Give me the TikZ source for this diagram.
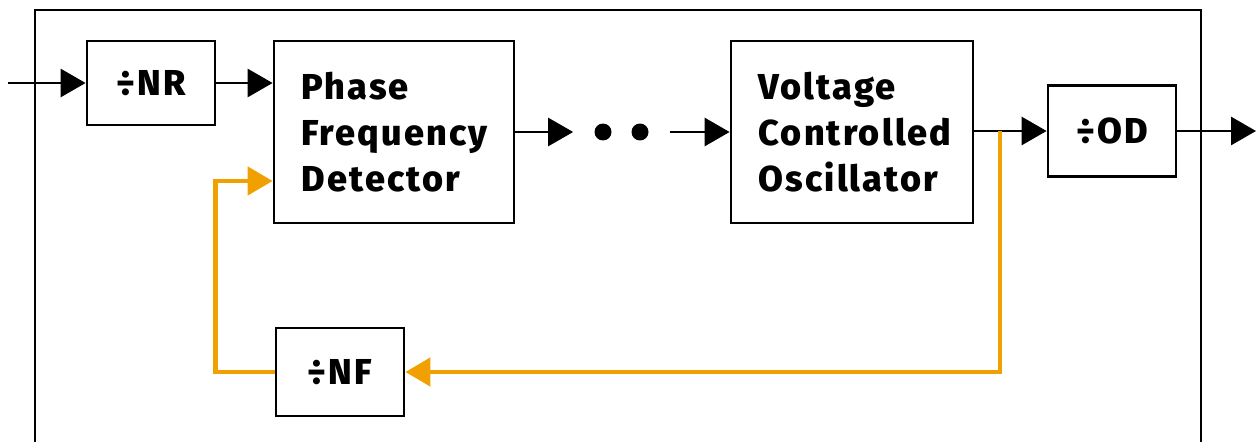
\documentclass[tikz,border=0pt]{standalone}
\usepackage{fontspec}
\setmainfont{Fira Sans}[LetterSpace=6, BoldFont={Fira Sans ExtraBold}]
\usetikzlibrary{arrows.meta,calc}
\definecolor{fborange}{RGB}{240,160,0}
\begin{document}
\begin{tikzpicture}[x=0.02cm, y=-0.02cm,
  blk/.style={draw, line width=1.6pt, inner sep=0pt, font=\fontsize{20.5}{26.2}\selectfont\bfseries},
  txtblk/.style={blk, align=left, inner xsep=0.55cm},
  dot/.style={circle, fill, inner sep=0pt, minimum size=0.34cm},
  sig/.style={line width=1.6pt, -{Triangle[length=0.5cm, width=0.56cm]}},
  fb/.style={line width=2.6pt, fborange, -{Triangle[length=0.5cm, width=0.56cm]}}]
\useasboundingbox (0,0) rectangle (1260,442);
% outer frame, open below
\draw[line width=1.6pt] (35,470) -- (35,10) -- (1201,10) -- (1201,470);
% blocks
\node[blk, minimum width=2.56cm, minimum height=1.68cm] (nr) at (151,83) {÷NR};
\node[txtblk, text width=3.7cm, minimum height=3.64cm] (pfd) at (394,132) {Phase\\Frequency\\Detector};
\node[dot] (d1) at (603,132) {};
\node[dot] (d2) at (640,132) {};
\node[txtblk, text width=3.74cm, minimum height=3.64cm] (vco) at (852,132) {Voltage\\Controlled\\Oscillator};
\node[blk, minimum width=2.56cm, minimum height=1.82cm] (od) at (1112,131) {÷OD};
\node[blk, minimum width=2.56cm, minimum height=1.76cm] (nf) at (340,372) {÷NF};
\coordinate (in) at (8,83);
\coordinate (out) at (1256,131);
\coordinate (tap) at (1000,131);
% forward path
\draw[sig] (in) -- (nr.west);
\draw[sig] (nr.east) -- (nr.east -| pfd.west);
\draw[sig, shorten >=0.42cm] (pfd.east) -- (d1.west);
\draw[sig, shorten <=0.42cm] (d2.east) -- (vco.west);
\draw[sig] (vco.east |- od.west) -- (od.west);
\draw[sig] (od.east) -- (out);
% feedback
\draw[fb] (tap) |- (nf.east);
\draw[fb] (nf.west) -- ++(-59,0) |- ([yshift=-0.98cm]pfd.west);
\end{tikzpicture}
\end{document}
